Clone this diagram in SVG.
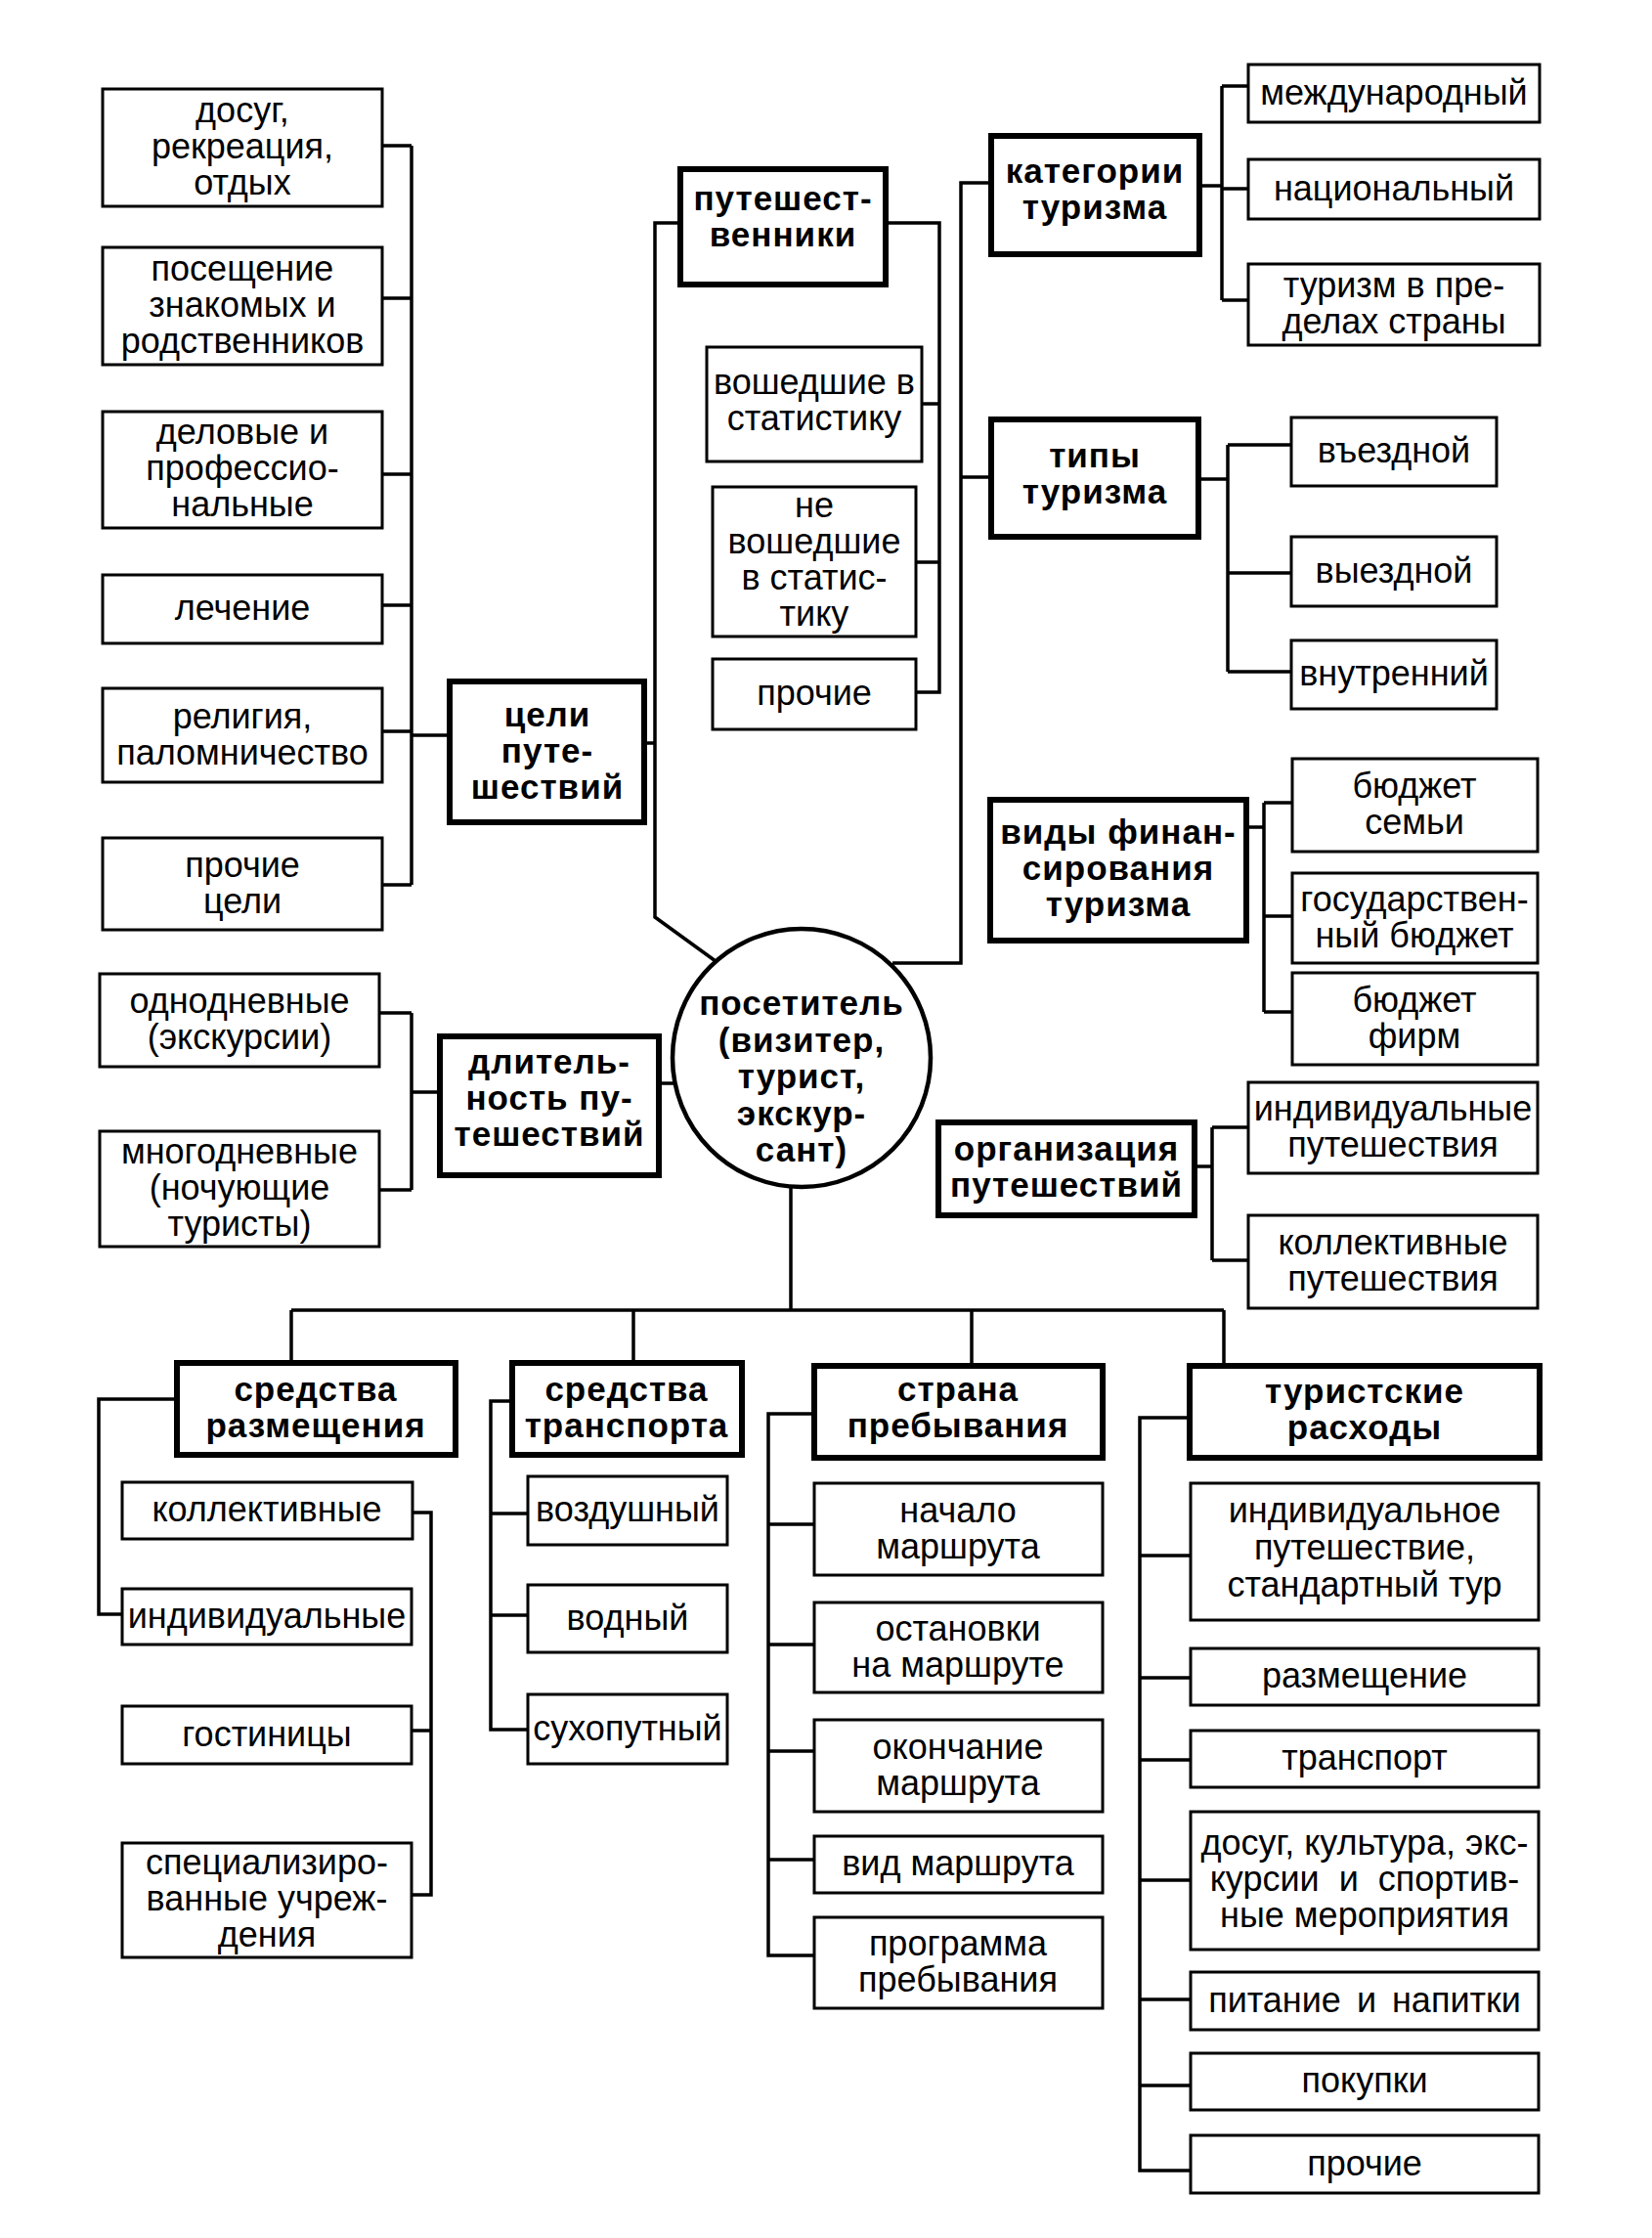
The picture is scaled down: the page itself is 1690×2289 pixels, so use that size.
<svg xmlns="http://www.w3.org/2000/svg" width="1690" height="2289" viewBox="0 0 1690 2289">
<style>
.bx{fill:#fff;stroke:#000;stroke-width:3}
.tk{fill:#fff;stroke:#000;stroke-width:6}
.cn{fill:none;stroke:#000;stroke-width:3.5;stroke-linejoin:miter}
text{font-family:"Liberation Sans",Arial,sans-serif;font-size:36px;text-anchor:middle;fill:#000}
.b{font-weight:bold;font-size:35px;letter-spacing:1px}
</style>
<rect width="1690" height="2289" fill="#fff"/>
<g id="connectors">
<path class="cn" d="M391 149H421M391 305H421M391 485H421M391 619H421M391 748H421M391 905H421M421 149V905M421 752H460"/>
<path class="cn" d="M659 760H670M696 228H670V938L732 983"/>
<path class="cn" d="M906 228H961V708H937M943 413H961M937 575H961"/>
<path class="cn" d="M1014 187H983V985H913M983 488H1014"/>
<path class="cn" d="M1227 190H1250M1250 88V307M1250 88H1277M1250 193H1277M1250 307H1277"/>
<path class="cn" d="M1226 490H1256M1256 455V687M1256 455H1321M1256 586H1321M1256 687H1321"/>
<path class="cn" d="M1275 846H1293M1293 821V1035M1293 821H1322M1293 937H1322M1293 1035H1322"/>
<path class="cn" d="M1222 1193H1240M1240 1153V1289M1240 1153H1277M1240 1289H1277"/>
<path class="cn" d="M674 1108H690M450 1117H421M421 1036V1217M421 1036H388M421 1217H388"/>
<path class="cn" d="M809 1214V1340M298 1340H1252M298 1340V1394M648 1340V1394M994 1340V1397M1252 1340V1397"/>
<path class="cn" d="M181 1431H101V1651H125M422 1547H441V1938H421M421 1770H441"/>
<path class="cn" d="M524 1433H502V1769H540M502 1548H540M502 1652H540"/>
<path class="cn" d="M833 1446H786V2000H833M786 1559H833M786 1682H833M786 1791H833M786 1902H833"/>
<path class="cn" d="M1217 1450H1166V2220H1218M1166 1591H1218M1166 1716H1218M1166 1800H1218M1166 1923H1218M1166 2045H1218M1166 2133H1218"/>
</g>
<g id="n_dosug"><rect class="bx" x="105" y="91" width="286" height="120"/><text x="248" y="125">досуг,</text><text x="248" y="162">рекреация,</text><text x="248" y="199">отдых</text></g>
<g id="n_poseshenie"><rect class="bx" x="105" y="253" width="286" height="120"/><text x="248" y="287">посещение</text><text x="248" y="324">знакомых и</text><text x="248" y="361">родственников</text></g>
<g id="n_delovye"><rect class="bx" x="105" y="421" width="286" height="119"/><text x="248" y="454">деловые и</text><text x="248" y="491">профессио-</text><text x="248" y="528">нальные</text></g>
<g id="n_lechenie"><rect class="bx" x="105" y="588" width="286" height="70"/><text x="248" y="634">лечение</text></g>
<g id="n_religia"><rect class="bx" x="105" y="704" width="286" height="96"/><text x="248" y="745">религия,</text><text x="248" y="782">паломничество</text></g>
<g id="n_prochie_celi"><rect class="bx" x="105" y="857" width="286" height="94"/><text x="248" y="897">прочие</text><text x="248" y="934">цели</text></g>
<g id="n_celi"><rect class="tk" x="460" y="697" width="199" height="144"/><text class="b" x="560" y="743">цели</text><text class="b" x="560" y="780">путе-</text><text class="b" x="560" y="817">шествий</text></g>
<g id="n_puteshest"><rect class="tk" x="696" y="173" width="210" height="118"/><text class="b" x="801" y="215">путешест-</text><text class="b" x="801" y="252">венники</text></g>
<g id="n_vosh"><rect class="bx" x="723" y="355" width="220" height="117"/><text x="833" y="403">вошедшие в</text><text x="833" y="440">статистику</text></g>
<g id="n_nevosh"><rect class="bx" x="729" y="498" width="208" height="153"/><text x="833" y="529">не</text><text x="833" y="566">вошедшие</text><text x="833" y="603">в статис-</text><text x="833" y="640">тику</text></g>
<g id="n_prochie1"><rect class="bx" x="729" y="674" width="208" height="72"/><text x="833" y="721">прочие</text></g>
<g id="n_kategorii"><rect class="tk" x="1014" y="139" width="213" height="121"/><text class="b" x="1120" y="187">категории</text><text class="b" x="1120" y="224">туризма</text></g>
<g id="n_mezhd"><rect class="bx" x="1277" y="66" width="298" height="59"/><text x="1426" y="107">международный</text></g>
<g id="n_nacion"><rect class="bx" x="1277" y="163" width="298" height="61"/><text x="1426" y="205">национальный</text></g>
<g id="n_vpredelah"><rect class="bx" x="1277" y="270" width="298" height="83"/><text x="1426" y="304">туризм в пре-</text><text x="1426" y="341">делах страны</text></g>
<g id="n_tipy"><rect class="tk" x="1014" y="429" width="212" height="120"/><text class="b" x="1120" y="478">типы</text><text class="b" x="1120" y="515">туризма</text></g>
<g id="n_vezd"><rect class="bx" x="1321" y="427" width="210" height="70"/><text x="1426" y="473">въездной</text></g>
<g id="n_vyezd"><rect class="bx" x="1321" y="549" width="210" height="71"/><text x="1426" y="596">выездной</text></g>
<g id="n_vnutr"><rect class="bx" x="1321" y="655" width="210" height="70"/><text x="1426" y="701">внутренний</text></g>
<g id="n_vidy"><rect class="tk" x="1013" y="818" width="262" height="144"/><text class="b" x="1144" y="863">виды финан-</text><text class="b" x="1144" y="900">сирования</text><text class="b" x="1144" y="937">туризма</text></g>
<g id="n_bsemi"><rect class="bx" x="1322" y="776" width="251" height="95"/><text x="1447" y="816">бюджет</text><text x="1447" y="853">семьи</text></g>
<g id="n_gosb"><rect class="bx" x="1322" y="893" width="251" height="92"/><text x="1447" y="932">государствен-</text><text x="1447" y="969">ный бюджет</text></g>
<g id="n_bfirm"><rect class="bx" x="1322" y="995" width="251" height="94"/><text x="1447" y="1035">бюджет</text><text x="1447" y="1072">фирм</text></g>
<g id="n_organiz"><rect class="tk" x="960" y="1148" width="262" height="95"/><text class="b" x="1091" y="1187">организация</text><text class="b" x="1091" y="1224">путешествий</text></g>
<g id="n_indput"><rect class="bx" x="1277" y="1107" width="296" height="93"/><text x="1425" y="1146">индивидуальные</text><text x="1425" y="1183">путешествия</text></g>
<g id="n_kollput"><rect class="bx" x="1277" y="1243" width="296" height="95"/><text x="1425" y="1283">коллективные</text><text x="1425" y="1320">путешествия</text></g>
<g id="n_dlit"><rect class="tk" x="450" y="1060" width="224" height="142"/><text class="b" x="562" y="1098">длитель-</text><text class="b" x="562" y="1135">ность пу-</text><text class="b" x="562" y="1172">тешествий</text></g>
<g id="n_odnodn"><rect class="bx" x="102" y="996" width="286" height="95"/><text x="245" y="1036">однодневные</text><text x="245" y="1073">(экскурсии)</text></g>
<g id="n_mnogodn"><rect class="bx" x="102" y="1157" width="286" height="118"/><text x="245" y="1190">многодневные</text><text x="245" y="1227">(ночующие</text><text x="245" y="1264">туристы)</text></g>
<g id="n_visitor"><circle cx="820" cy="1082" r="132" fill="#fff" stroke="#000" stroke-width="4.5"/><text class="b" x="820" y="1038">посетитель</text><text class="b" x="820" y="1076">(визитер,</text><text class="b" x="820" y="1113">турист,</text><text class="b" x="820" y="1151">экскур-</text><text class="b" x="820" y="1188">сант)</text></g>
<g id="n_sr_razm"><rect class="tk" x="181" y="1394" width="285" height="94"/><text class="b" x="323" y="1433">средства</text><text class="b" x="323" y="1470">размещения</text></g>
<g id="n_kollekt"><rect class="bx" x="125" y="1516" width="297" height="58"/><text x="273" y="1556">коллективные</text></g>
<g id="n_individ"><rect class="bx" x="125" y="1625" width="296" height="57"/><text x="273" y="1665">индивидуальные</text></g>
<g id="n_gostin"><rect class="bx" x="125" y="1745" width="296" height="59"/><text x="273" y="1786">гостиницы</text></g>
<g id="n_spec"><rect class="bx" x="125" y="1885" width="296" height="117"/><text x="273" y="1917">специализиро-</text><text x="273" y="1954">ванные учреж-</text><text x="273" y="1991">дения</text></g>
<g id="n_sr_transp"><rect class="tk" x="524" y="1394" width="235" height="94"/><text class="b" x="641" y="1433">средства</text><text class="b" x="641" y="1470">транспорта</text></g>
<g id="n_vozd"><rect class="bx" x="540" y="1510" width="204" height="70"/><text x="642" y="1556">воздушный</text></g>
<g id="n_vodn"><rect class="bx" x="540" y="1621" width="204" height="69"/><text x="642" y="1667">водный</text></g>
<g id="n_suhop"><rect class="bx" x="540" y="1733" width="204" height="71"/><text x="642" y="1780">сухопутный</text></g>
<g id="n_strana"><rect class="tk" x="833" y="1397" width="295" height="94"/><text class="b" x="980" y="1433">страна</text><text class="b" x="980" y="1470">пребывания</text></g>
<g id="n_nachalo"><rect class="bx" x="833" y="1517" width="295" height="94"/><text x="980" y="1557">начало</text><text x="980" y="1594">маршрута</text></g>
<g id="n_ostanov"><rect class="bx" x="833" y="1639" width="295" height="92"/><text x="980" y="1678">остановки</text><text x="980" y="1715">на маршруте</text></g>
<g id="n_okonch"><rect class="bx" x="833" y="1759" width="295" height="94"/><text x="980" y="1799">окончание</text><text x="980" y="1836">маршрута</text></g>
<g id="n_vid"><rect class="bx" x="833" y="1878" width="295" height="58"/><text x="980" y="1918">вид маршрута</text></g>
<g id="n_programma"><rect class="bx" x="833" y="1961" width="295" height="93"/><text x="980" y="2000">программа</text><text x="980" y="2037">пребывания</text></g>
<g id="n_rashody"><rect class="tk" x="1217" y="1397" width="358" height="94"/><text class="b" x="1396" y="1435">туристские</text><text class="b" x="1396" y="1472">расходы</text></g>
<g id="n_ind_tur"><rect class="bx" x="1218" y="1517" width="356" height="140"/><text x="1396" y="1557">индивидуальное</text><text x="1396" y="1595">путешествие,</text><text x="1396" y="1633">стандартный тур</text></g>
<g id="n_razm"><rect class="bx" x="1218" y="1686" width="356" height="58"/><text x="1396" y="1726">размещение</text></g>
<g id="n_transport"><rect class="bx" x="1218" y="1770" width="356" height="58"/><text x="1396" y="1810">транспорт</text></g>
<g id="n_dosug2"><rect class="bx" x="1218" y="1853" width="356" height="141"/><text x="1396" y="1897">досуг, культура, экс-</text><text x="1396" y="1934" word-spacing="10">курсии и спортив-</text><text x="1396" y="1971">ные мероприятия</text></g>
<g id="n_pitanie"><rect class="bx" x="1218" y="2017" width="356" height="59"/><text x="1396" y="2058" word-spacing="6">питание и напитки</text></g>
<g id="n_pokupki"><rect class="bx" x="1218" y="2100" width="356" height="58"/><text x="1396" y="2140">покупки</text></g>
<g id="n_prochie2"><rect class="bx" x="1218" y="2184" width="356" height="59"/><text x="1396" y="2225">прочие</text></g>
</svg>
